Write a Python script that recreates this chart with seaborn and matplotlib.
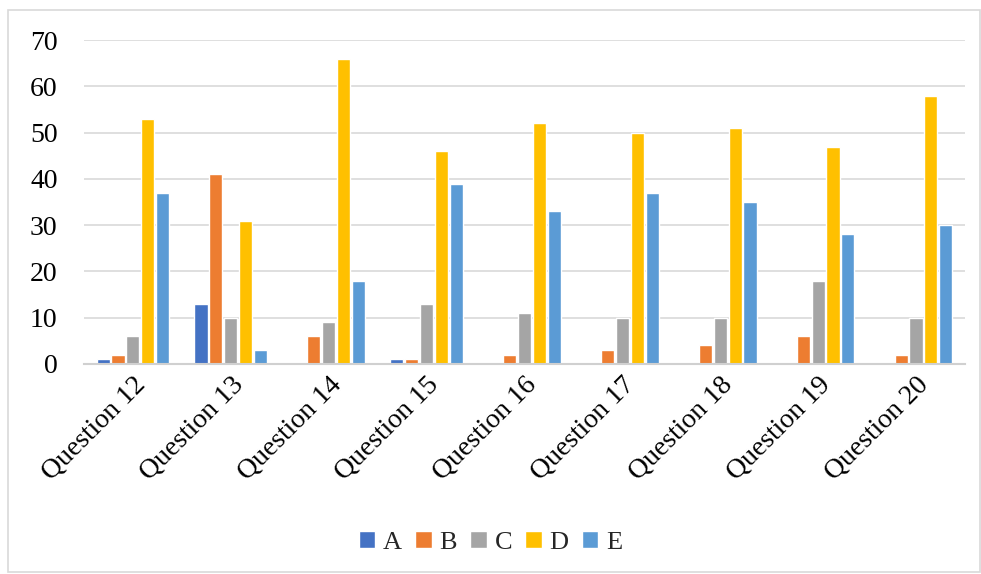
import matplotlib
matplotlib.use("Agg")
import matplotlib.pyplot as plt
import seaborn as sns
import pandas as pd
from matplotlib.patches import Rectangle

questions = ["Question 12", "Question 13", "Question 14", "Question 15", "Question 16",
             "Question 17", "Question 18", "Question 19", "Question 20"]
answers = ["A", "B", "C", "D", "E"]
count_a = [1, 13, 0, 1, 0, 0, 0, 0, 0]
count_b = [2, 41, 6, 1, 2, 3, 4, 6, 2]
count_c = [6, 10, 9, 13, 11, 10, 10, 18, 10]
count_d = [53, 31, 66, 46, 52, 50, 51, 47, 58]
count_e = [37, 3, 18, 39, 33, 37, 35, 28, 30]
colors = ["#4472C4", "#ED7D31", "#A5A5A5", "#FFC000", "#5B9BD5"]

rows = []
for ans, vals in zip(answers, [count_a, count_b, count_c, count_d, count_e]):
    for q, v in zip(questions, vals):
        rows.append({"Question": q, "Answer": ans, "Count": v})
df = pd.DataFrame(rows)

sns.set_theme(style="white")
plt.rcParams["font.family"] = ["Liberation Serif", "DejaVu Serif"]

fig = plt.figure(figsize=(9.81, 5.74), dpi=100)
ax = fig.add_axes([0.0856, 0.366, 0.898, 0.564])

sns.barplot(data=df, x="Question", y="Count", hue="Answer", order=questions,
            hue_order=answers, palette=colors, width=0.76, gap=0.12,
            saturation=1, ax=ax, legend=True)

ax.set_ylim(0, 70)
ax.set_yticks(range(0, 71, 10))
ax.set_xlim(-0.5, len(questions) - 0.5)
ax.yaxis.grid(True, color="#D9D9D9", linewidth=1.2)
ax.set_axisbelow(True)
for side in ["left", "right", "top"]:
    ax.spines[side].set_visible(False)
ax.spines["bottom"].set_color("#D0D0D0")
ax.spines["bottom"].set_linewidth(1.5)
ax.set_xlabel("")
ax.set_ylabel("")
ax.tick_params(axis="y", length=0, labelsize=20, colors="black", pad=19)
ax.tick_params(axis="x", length=0, labelsize=20, colors="black", pad=6)
for lbl in ax.get_xticklabels():
    lbl.set_rotation(45)
    lbl.set_ha("right")
    lbl.set_rotation_mode("anchor")

handles, labels = ax.get_legend_handles_labels()
ax.legend_.remove()
fig.legend(handles, labels, loc="center", bbox_to_anchor=(0.5, 0.055), ncol=5,
           frameon=False, fontsize=19, handlelength=0.62, handleheight=0.62,
           columnspacing=0.5, handletextpad=0.3)

fig.patches.append(Rectangle((8 / 981, 2 / 574), 972 / 981, 562 / 574,
                             transform=fig.transFigure, fill=False,
                             edgecolor="#D9D9D9", linewidth=1.2))

fig.savefig("out.png", dpi=100)
